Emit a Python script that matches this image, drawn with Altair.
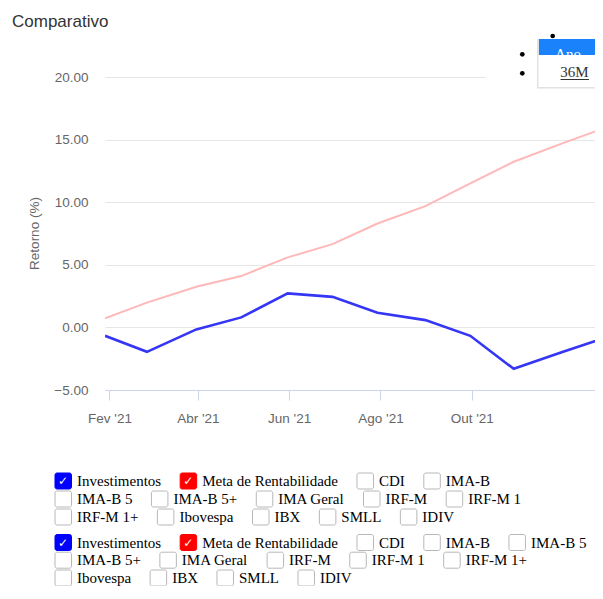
import json
import altair as alt
import pandas as pd

# ---------------- data ----------------
datas = ["2021-01-29", "2021-02-26", "2021-03-31", "2021-04-30", "2021-05-31", "2021-06-30",
         "2021-07-30", "2021-08-31", "2021-09-30", "2021-10-29", "2021-11-30", "2021-12-31"]
investimentos = [-0.67, -1.95, -0.16, 0.80, 2.72, 2.44, 1.17, 0.58, -0.67, -3.31, -1.98, -0.75]
meta = [0.72, 1.98, 3.25, 4.10, 5.59, 6.65, 8.30, 9.69, 11.50, 13.23, 14.68, 16.03]
series = ["Investimentos", "Meta de Rentabilidade"]
y_ticks = [-5, 0, 5, 10, 15, 20]
x_tick_months = [2, 4, 6, 8, 10]
meses = ["Jan", "Fev", "Mar", "Abr", "Mai", "Jun", "Jul", "Ago", "Set", "Out", "Nov", "Dez"]
titulo = "Comparativo"
titulo_y = "Retorno (%)"
botoes = ["Ano", "36M"]
grupo1 = [["Investimentos", "Meta de Rentabilidade", "CDI", "IMA-B"],
          ["IMA-B 5", "IMA-B 5+", "IMA Geral", "IRF-M", "IRF-M 1"],
          ["IRF-M 1+", "Ibovespa", "IBX", "SMLL", "IDIV"]]
grupo2 = [["Investimentos", "Meta de Rentabilidade", "CDI", "IMA-B", "IMA-B 5"],
          ["IMA-B 5+", "IMA Geral", "IRF-M", "IRF-M 1", "IRF-M 1+"],
          ["Ibovespa", "IBX", "SMLL", "IDIV"]]
marcados = {"Investimentos": "#0000ff", "Meta de Rentabilidade": "#ff0000"}

# ---------------- layout ----------------
OX, OY = 105, 77          # page position of the plot origin
W, H = 490, 313
SVG_W, SVG_H = 587, 578   # keep the page free of scrolling


def rx(px):
    return px - OX


def ry(py):
    return py - OY


# Times New Roman advance widths (1/1000 em) for the label texts
TIMES = {" ": 250, "+": 564, "-": 333, "1": 500, "5": 500, "3": 500, "6": 500,
         "A": 722, "B": 667, "C": 667, "D": 722, "F": 556, "G": 722, "I": 333, "L": 611,
         "M": 889, "R": 667, "S": 556, "V": 722, "X": 722,
         "a": 444, "b": 500, "d": 500, "e": 444, "i": 278, "l": 278, "m": 778, "n": 500,
         "o": 500, "p": 500, "r": 333, "s": 389, "t": 278, "v": 500}


def largura(txt, size=15):
    return sum(TIMES.get(c, 500) for c in txt) * size / 1000.0


def legenda(grupo, baselines):
    rows = []
    for linha, base in zip(grupo, baselines):
        x = 55.0
        for lab in linha:
            cor = marcados.get(lab)
            rows.append(dict(label=lab,
                             bx=rx(x), bx2=rx(x + 16.5), by=ry(base - 13), by2=ry(base + 3),
                             tx=rx(x + 22), ty=ry(base),
                             cx=rx(x + 8), cy=ry(base - 5),
                             fill=cor or "#ffffff", stroke=cor or "#b8b8b8",
                             marcado=cor is not None))
            x += 22 + largura(lab) + 19
    return rows


leg = pd.DataFrame(legenda(grupo1, [486, 504, 522]) + legenda(grupo2, [547.5, 565.2, 583]))

df = pd.DataFrame({
    "serie": [series[0]] * len(datas) + [series[1]] * len(datas),
    "data": [d + "T00:00:00" for d in datas] * 2,
    "valor": investimentos + meta,
})

label_expr = json.dumps(meses) + "[month(datum.value)] + \" '\" + timeFormat(datum.value, '%y')"

x_enc = alt.X("data:T",
              scale=alt.Scale(domain=[alt.DateTime(year=2021, month=1, date=29),
                                      alt.DateTime(year=2021, month=12, date=22, hours=7)]),
              axis=alt.Axis(values=[alt.DateTime(year=2021, month=m, date=1) for m in x_tick_months],
                            labelExpr=label_expr, title=None, grid=False,
                            domainColor="#ccd6eb", tickColor="#ccd6eb", tickSize=10,
                            labelPadding=11, labelFont="Liberation Sans", labelFontSize=13.5,
                            labelColor="#666666", zindex=1))
y_enc = alt.Y("valor:Q",
              scale=alt.Scale(domain=[-5, 20], nice=False, zero=False),
              axis=alt.Axis(values=y_ticks, format=".2f", title=None, grid=True,
                            gridColor="#e6e6e6", domain=False, ticks=False, labelPadding=17,
                            labelFont="Liberation Sans", labelFontSize=13.5, labelColor="#666666"))

meta_line = alt.Chart(df).transform_filter(f"datum.serie == '{series[1]}'").mark_line(
    color="#ffb8b8", strokeWidth=2, clip=True).encode(x=x_enc, y=y_enc)
inv_line = alt.Chart(df).transform_filter(f"datum.serie == '{series[0]}'").mark_line(
    color="#3535f5", strokeWidth=2.6, clip=True).encode(x=x_enc, y=y_enc)

one = pd.DataFrame({"k": [0]})


def box(x1, x2, y1, y2, **kw):
    return alt.Chart(one).mark_rect(**kw).encode(
        x=alt.value(rx(x1)), x2=alt.value(rx(x2)), y=alt.value(ry(y1)), y2=alt.value(ry(y2)))


def label(txt, x, y, **kw):
    return alt.Chart(one).mark_text(text=txt, **kw).encode(x=alt.value(rx(x)), y=alt.value(ry(y)))


cover = box(486, 600, 28, 89, color="#ffffff")
shadow = box(537, 600, 39, 88.5, color="#e2e2e2")
blue_btn = box(539, 600, 39, 55, color="#1a82fb")
ano = label(botoes[0], 568, 58.5, font="Liberation Serif", fontSize=15, color="#ffffff",
            align="center", baseline="alphabetic")
white_btn = box(538.5, 600, 55, 87, color="#ffffff")
m36 = label(botoes[1], 574.5, 77, font="Liberation Serif", fontSize=15, color="#333333",
            align="center", baseline="alphabetic")
underline = alt.Chart(one).mark_rule(color="#333333", strokeWidth=1).encode(
    x=alt.value(rx(560.5)), x2=alt.value(rx(589)), y=alt.value(ry(79.5)))
bullets = alt.Chart(pd.DataFrame({"bx": [rx(552.7), rx(522.3), rx(522.3)],
                                  "by": [ry(36), ry(54.3), ry(73.3)]})).mark_circle(
    color="#000000", opacity=1, size=22).encode(
    x=alt.X("bx:Q", scale=None, axis=None), y=alt.Y("by:Q", scale=None, axis=None))

title = label(titulo, 12, 27, font="Liberation Sans", fontSize=17, color="#333333",
              align="left", baseline="alphabetic")
ytitle = label(titulo_y, 35, 233.5, font="Liberation Sans", fontSize=13.5, color="#666666",
               align="center", baseline="middle", angle=270)

boxes = alt.Chart(leg).mark_rect(cornerRadius=2, strokeWidth=1).encode(
    x=alt.X("bx:Q", scale=None, axis=None), x2="bx2:Q",
    y=alt.Y("by:Q", scale=None, axis=None), y2="by2:Q",
    fill=alt.Fill("fill:N", scale=None), stroke=alt.Stroke("stroke:N", scale=None))
checks = alt.Chart(leg).transform_filter("datum.marcado").mark_text(
    text="✓", font="DejaVu Sans", fontSize=12, color="#ffffff", align="center", baseline="middle").encode(
    x=alt.X("cx:Q", scale=None, axis=None), y=alt.Y("cy:Q", scale=None, axis=None))
texts = alt.Chart(leg).mark_text(font="Liberation Serif", fontSize=15, color="#000000",
                                 align="left", baseline="alphabetic").encode(
    x=alt.X("tx:Q", scale=None, axis=None), y=alt.Y("ty:Q", scale=None, axis=None),
    text="label:N")

chart = alt.layer(
    meta_line, inv_line, cover, bullets, shadow, blue_btn, ano, white_btn, m36, underline,
    title, ytitle, boxes, checks, texts
).properties(
    width=W, height=H,
    padding={"left": OX - 8, "top": OY - 8, "right": SVG_W - (OX - 8) - W,
             "bottom": SVG_H - (OY - 8) - H},
    autosize=alt.AutoSizeParams(type="none"),
    background="#ffffff",
).configure_view(stroke=None)

chart.save("out.html", embed_options={"renderer": "svg", "actions": False})
